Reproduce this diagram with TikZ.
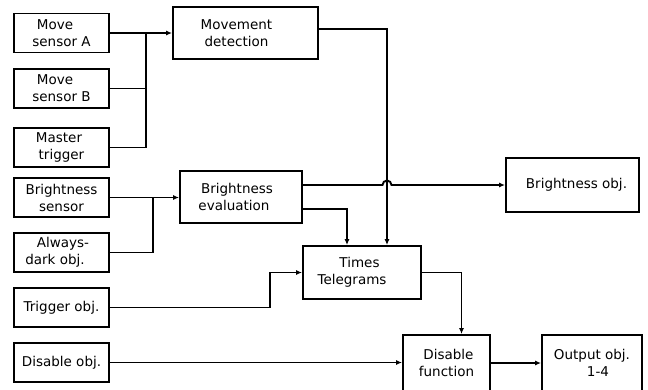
\documentclass[tikz,border=0pt]{standalone}
\usepackage{fontspec}
\setmainfont{DejaVu Sans}
\usetikzlibrary{arrows.meta,calc}
\begin{document}
\begin{tikzpicture}[x=1pt,y=-1pt,
  box/.style={draw,line width=1.9pt,align=center,inner sep=0pt,font=\fontsize{13.5}{17}\selectfont},
  lbox/.style={box,minimum width=95pt,minimum height=39pt},
  conn/.style={line width=1.9pt},
  arr/.style={conn,-{Latex[length=6pt,width=5pt]}}]
\useasboundingbox (0,0) rectangle (648,389);
\clip (0,0) rectangle (648,389);
% left column
\node[lbox] (msa) at (61.5,33) {Move\hspace*{13pt}\\sensor A};
\node[lbox] (msb) at (61.5,88.5) {Move\hspace*{13pt}\\sensor B};
\node[lbox] (mt) at (61.5,147.5) {Master\hspace*{5pt}\\trigger};
\node[lbox] (bs) at (61.5,197.5) {Brightness\\sensor};
\node[lbox] (ad) at (61.5,252.5) {\hspace*{3pt}Always-\\dark obj.\hspace*{13pt}};
\node[lbox] (trig) at (61.5,307.5) {Trigger obj.};
\node[lbox] (dis) at (61.5,362.5) {Disable obj.};
% processing boxes
\node[box,minimum width=145pt,minimum height=52pt] (md) at (245.5,33) {Movement\hspace*{18pt}\\detection\hspace*{18pt}};
\node[box,minimum width=122pt,minimum height=52pt] (be) at (241,197) {Brightness\hspace*{8pt}\\evaluation\hspace*{14pt}};
\node[box,minimum width=118pt,minimum height=53pt] (tt) at (362,272.5) {Times\hspace*{5pt}\\Telegrams\hspace*{20pt}};
\node[box,minimum width=133pt,minimum height=54pt] (bo) at (572.5,185) {\hspace*{8pt}Brightness obj.};
\node[box,minimum width=87pt,minimum height=56pt] (df) at (446.5,363) {Disable\hspace*{-4pt}\\function};
\node[box,minimum width=100pt,minimum height=56pt] (out) at (592,363) {Output obj.\\\hspace*{12pt}1-4};
% junctions
\coordinate (j1) at (146,33);
\coordinate (j2) at (153,197.5);
\coordinate (hop) at ([xshift=25pt]tt.north |- bo.west);
% connectors
\draw[arr] (msa) -- (md);
\draw[conn] (msb.east) -| (j1);
\draw[conn] (mt.east) -| (j1);
\draw[arr] (bs.east) -- (bs.east -| be.west);
\draw[conn] (ad.east) -| (j2);
\draw[arr] ([yshift=4pt]md.east) -| ([xshift=25pt]tt.north);
\draw[arr] (be.east |- bo.west) -- ([xshift=-4.5pt]hop) arc[start angle=180,end angle=0,radius=4.5pt] -- (bo.west);
\draw[arr] ([yshift=-12pt]be.east) -| ([xshift=-15pt]tt.north);
\draw[arr] (trig.east) -| ([xshift=-32pt]tt.west) -- (tt.west);
\draw[arr] (tt.east) -| ([xshift=15pt]df.north);
\draw[arr] (dis.east) -- (dis.east -| df.west);
\draw[arr] (df.east) -- (df.east -| out.west);
\end{tikzpicture}
\end{document}
